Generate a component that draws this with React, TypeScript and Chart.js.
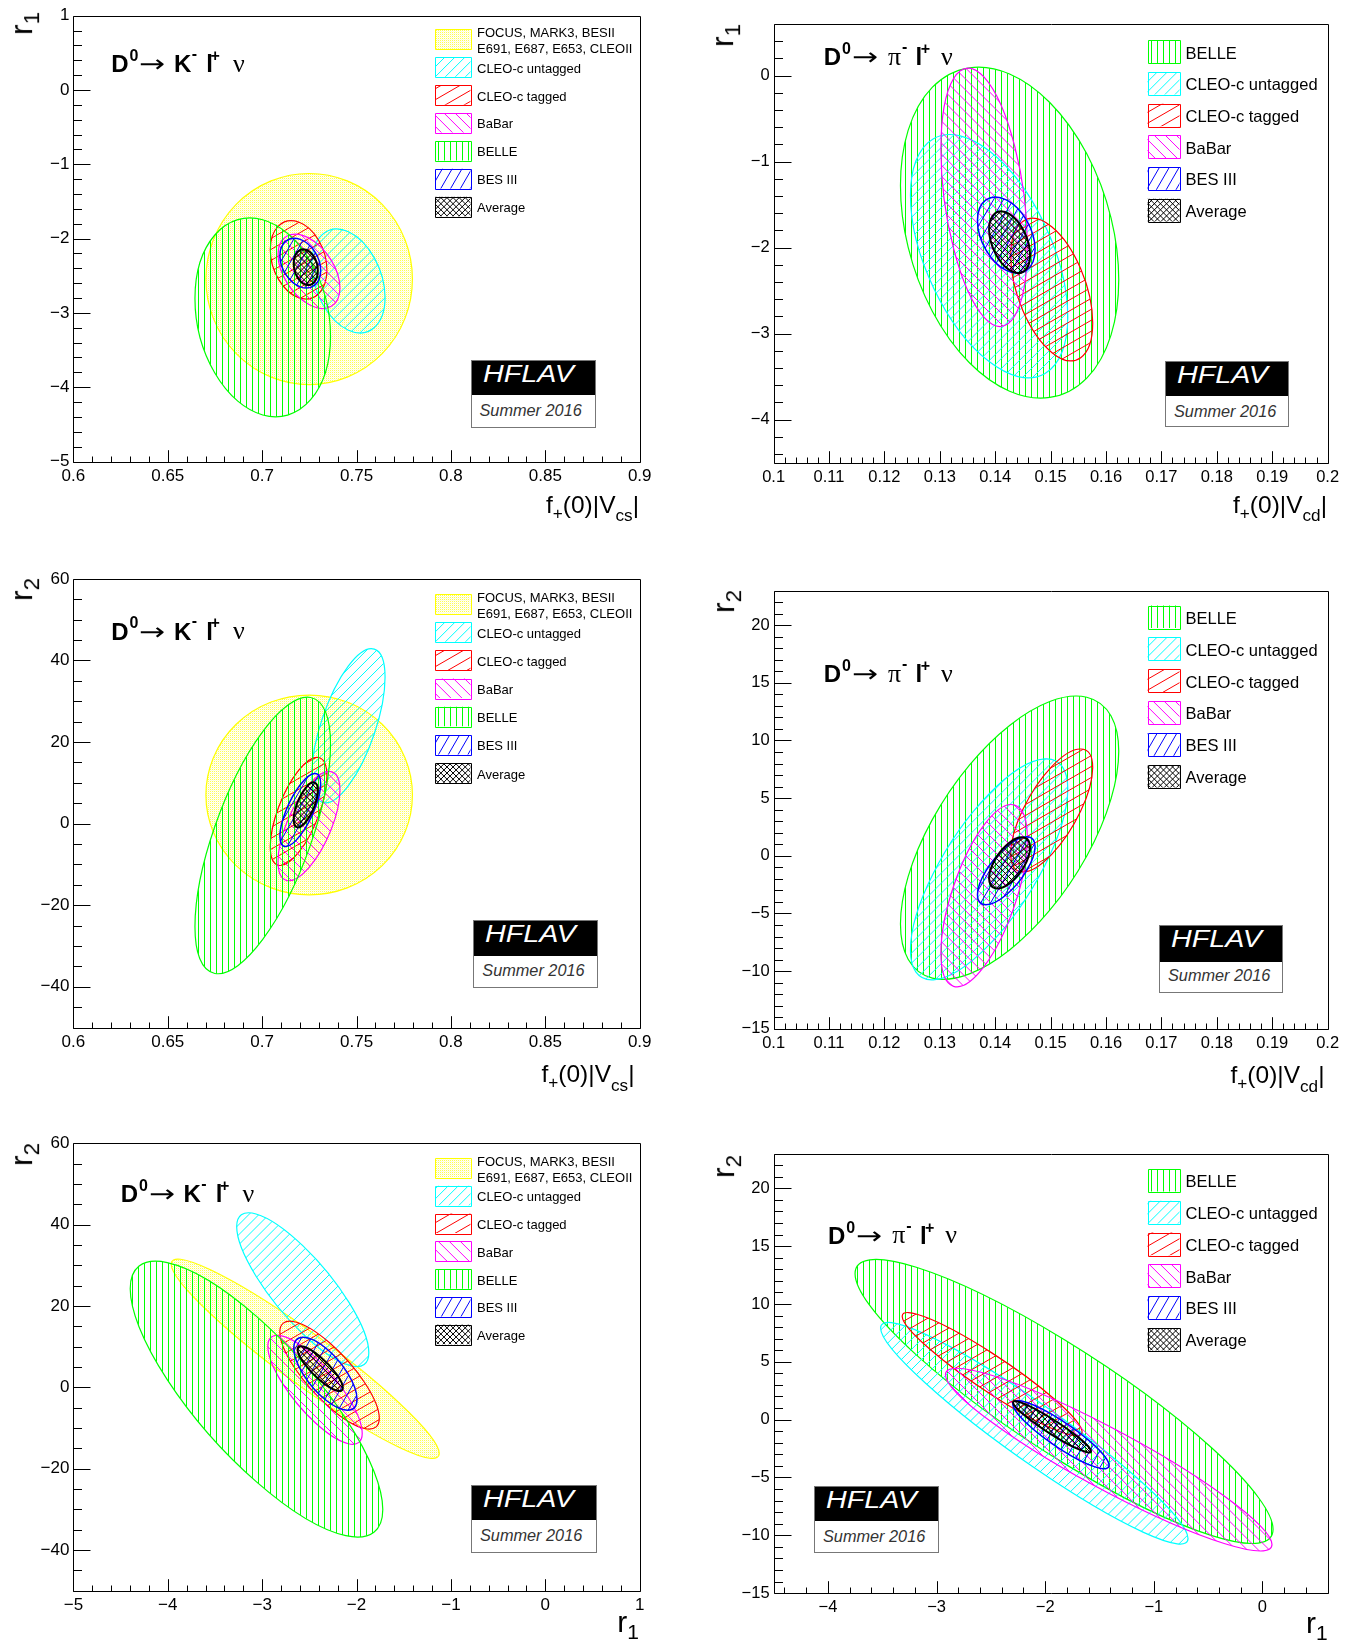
import React, { useEffect, useRef } from "react";
import { Chart, registerables } from "chart.js";

Chart.register(...registerables);

// ---------------- D0 -> K- l+ nu : 1-sigma contours ----------------
const K_EXPERIMENTS = ["FOCUS, MARK3, BESII, E691, E687, E653, CLEOII", "CLEO-c untagged", "CLEO-c tagged", "BaBar", "BELLE", "BES III", "Average"];
const K_LEGEND_LINES = [["FOCUS, MARK3, BESII", "E691, E687, E653, CLEOII"], ["CLEO-c untagged"], ["CLEO-c tagged"], ["BaBar"], ["BELLE"], ["BES III"], ["Average"]];
const K_F_CENTER = [0.7249, 0.7457, 0.7193, 0.7248, 0.7003, 0.7202, 0.7231];
const K_F_HALF = [0.0547, 0.0194, 0.0150, 0.0164, 0.0359, 0.0108, 0.0064];
const K_R1_CENTER = [-2.544, -2.57, -2.286, -2.44, -3.06, -2.33, -2.385];
const K_R1_HALF = [1.42, 0.70, 0.527, 0.50, 1.338, 0.335, 0.24];
const K_R2_CENTER = [7.03, 24.0, 3.0, -0.6, -2.9, 3.34, 4.6];
const K_R2_HALF = [24.5, 18.9, 13.25, 13.4, 33.9, 8.95, 5.52];
const K_RHO_F_R1 = [0.0, -0.32, -0.26, -0.45, -0.19, -0.3, -0.2];
const K_RHO_F_R2 = [0.0, 0.63, 0.65, 0.65, 0.66, 0.72, 0.65];
const K_RHO_R1_R2 = [-0.95, -0.82, -0.8, -0.8, -0.8, -0.7, -0.85];
const K_STYLE_KEYS = ["yellow", "cyan", "red", "magenta", "green", "blue", "black"];

// ---------------- D0 -> pi- l+ nu : 1-sigma contours ----------------
const PI_EXPERIMENTS = ["BELLE", "CLEO-c untagged", "CLEO-c tagged", "BaBar", "BES III", "Average"];
const PI_LEGEND_LINES = [["BELLE"], ["CLEO-c untagged"], ["CLEO-c tagged"], ["BaBar"], ["BES III"], ["Average"]];
const PI_F_CENTER = [0.1426, 0.1389, 0.1502, 0.1380, 0.1420, 0.1426];
const PI_F_HALF = [0.0197, 0.0142, 0.0074, 0.0078, 0.0052, 0.0037];
const PI_R1_CENTER = [-1.826, -2.10, -2.488, -1.415, -1.855, -1.937];
const PI_R1_HALF = [1.924, 1.415, 0.828, 1.503, 0.443, 0.359];
const PI_R2_CENTER = [1.57, -1.18, 3.93, -3.46, -1.30, -0.62];
const PI_R2_HALF = [12.28, 9.58, 5.33, 7.90, 2.95, 2.22];
const PI_RHO_F_R1 = [-0.285, -0.5, -0.47, -0.37, -0.38, -0.42];
const PI_RHO_F_R2 = [0.61, 0.73, 0.70, 0.63, 0.71, 0.60];
const PI_RHO_R1_R2 = [-0.9, -0.95, -0.94, -0.93, -0.9, -0.95];
const PI_STYLE_KEYS = ["green", "cyan", "red", "magenta", "blue", "black"];

// ---------------- tick labels ----------------
const X_TICKS_F_K = [0.6, 0.65, 0.7, 0.75, 0.8, 0.85, 0.9];
const X_TICKS_F_PI = [0.1, 0.11, 0.12, 0.13, 0.14, 0.15, 0.16, 0.17, 0.18, 0.19, 0.2];
const X_TICKS_R1_K = [-5, -4, -3, -2, -1, 0, 1];
const X_TICKS_R1_PI = [-4, -3, -2, -1, 0];
const Y_TICKS_R1_K = [1, 0, -1, -2, -3, -4, -5];
const Y_TICKS_R1_PI = [0, -1, -2, -3, -4];
const Y_TICKS_R2_K = [60, 40, 20, 0, -20, -40];
const Y_TICKS_R2_PI = [20, 15, 10, 5, 0, -5, -10, -15];

const FAMILIES: any = {
  K: {
    names: K_EXPERIMENTS,
    legend: K_LEGEND_LINES,
    styles: K_STYLE_KEYS,
    center: { f: K_F_CENTER, r1: K_R1_CENTER, r2: K_R2_CENTER },
    half: { f: K_F_HALF, r1: K_R1_HALF, r2: K_R2_HALF },
    rho: { "f-r1": K_RHO_F_R1, "f-r2": K_RHO_F_R2, "r1-r2": K_RHO_R1_R2 },
  },
  PI: {
    names: PI_EXPERIMENTS,
    legend: PI_LEGEND_LINES,
    styles: PI_STYLE_KEYS,
    center: { f: PI_F_CENTER, r1: PI_R1_CENTER, r2: PI_R2_CENTER },
    half: { f: PI_F_HALF, r1: PI_R1_HALF, r2: PI_R2_HALF },
    rho: { "f-r1": PI_RHO_F_R1, "f-r2": PI_RHO_F_R2, "r1-r2": PI_RHO_R1_R2 },
  },
};

// ---------------- styles ----------------
const SANS = "'Liberation Sans', Arial, Helvetica, sans-serif";
const SERIF = "'Liberation Serif', 'DejaVu Serif', 'Times New Roman', serif";
const ARROWFONT = "'DejaVu Sans', 'Liberation Sans', sans-serif";
const PAGE_W = 1354;
const PAGE_H = 1645;
const YW = 64;
const XH = 34;

const HATCH: any = {
  yellow: { color: "#ffff00", dots: true, outline: 1.2 },
  cyan: { color: "#00ffff", angles: [45], gap: 7.1, outline: 1.2 },
  red: { color: "#ff0000", angles: [30], gap: 9.5, outline: 1.2 },
  magenta: { color: "#ff00ff", angles: [-45], gap: 7.8, outline: 1.2 },
  green: { color: "#00ff00", angles: [90], gap: 6, outline: 1.2 },
  blue: { color: "#0000ff", angles: [60], gap: 8.5, outline: 1.5 },
  black: { color: "#000000", angles: [45, -45], gap: 4.3, outline: 2 },
};

const PANELS: any[] = [
  {
    id: "tl", family: "K", xKey: "f", yKey: "r1", xRange: [0.6, 0.9], yRange: [-5, 1],
    xTicks: X_TICKS_F_K, yTicks: Y_TICKS_R1_K, xMinor: 0.01, yMinor: 0.2,
    canvas: { x: 0, y: 0, w: 677, h: 545 }, plot: { l: 73.4, t: 15.7, r: 639.7, b: 461.5 },
    legend: { x: 435, y: 29.3, step: 27.9, w: 35.5, h: 19.6, textX: 477, font: 13 },
    title: { x: 111.3, baseline: 72.4 }, hflav: { x: 470.5, y: 359.5, w: 125, h: 68, split: 36 },
    xTitle: { right: 639, baseline: 513.5 }, yTitle: { base: 32.4, end: 12 }, tickFont: 17,
  },
  {
    id: "tr", family: "PI", xKey: "f", yKey: "r1", xRange: [0.1, 0.2], yRange: [-4.5, 0.6],
    xTicks: X_TICKS_F_PI, yTicks: Y_TICKS_R1_PI, xMinor: 0.002, yMinor: 0.2,
    canvas: { x: 677, y: 0, w: 677, h: 545 }, plot: { l: 773.6, t: 24, r: 1327.6, b: 462.6 },
    legend: { x: 1147.5, y: 40.3, step: 31.7, w: 32, h: 22.6, textX: 1185.5, font: 16.5 },
    title: { x: 823.7, baseline: 65.5 }, hflav: { x: 1165, y: 361, w: 124, h: 66, split: 35 },
    xTitle: { right: 1327, baseline: 513.5 }, yTitle: { base: 733, end: 24 }, tickFont: 16.5,
  },
  {
    id: "ml", family: "K", xKey: "f", yKey: "r2", xRange: [0.6, 0.9], yRange: [-50, 60],
    xTicks: X_TICKS_F_K, yTicks: Y_TICKS_R2_K, xMinor: 0.01, yMinor: 5,
    canvas: { x: 0, y: 545, w: 677, h: 567 }, plot: { l: 73.4, t: 578.9, r: 639.7, b: 1027.6 },
    legend: { x: 435, y: 593.9, step: 28.2, w: 35.5, h: 19.6, textX: 477, font: 13 },
    title: { x: 111.3, baseline: 639.9 }, hflav: { x: 473.3, y: 919.5, w: 124.5, h: 68.5, split: 37 },
    xTitle: { right: 634.5, baseline: 1082.7 }, yTitle: { base: 32, end: 577.6 }, tickFont: 17,
  },
  {
    id: "mr", family: "PI", xKey: "f", yKey: "r2", xRange: [0.1, 0.2], yRange: [-15, 23],
    xTicks: X_TICKS_F_PI, yTicks: Y_TICKS_R2_PI, xMinor: 0.002, yMinor: 1,
    canvas: { x: 677, y: 545, w: 677, h: 567 }, plot: { l: 773.6, t: 590.5, r: 1327.6, b: 1028.8 },
    legend: { x: 1147.5, y: 605.5, step: 31.9, w: 32, h: 22.6, textX: 1185.5, font: 16.5 },
    title: { x: 823.7, baseline: 682.6 }, hflav: { x: 1159, y: 925, w: 124, h: 68, split: 37 },
    xTitle: { right: 1324.5, baseline: 1084 }, yTitle: { base: 734, end: 590 }, tickFont: 16.5,
  },
  {
    id: "bl", family: "K", xKey: "r1", yKey: "r2", xRange: [-5, 1], yRange: [-50, 60],
    xTicks: X_TICKS_R1_K, yTicks: Y_TICKS_R2_K, xMinor: 0.2, yMinor: 5,
    canvas: { x: 0, y: 1112, w: 677, h: 533 }, plot: { l: 73.4, t: 1143.2, r: 639.7, b: 1590.8 },
    legend: { x: 435, y: 1157.9, step: 27.8, w: 35.5, h: 19.6, textX: 477, font: 13 },
    title: { x: 120.8, baseline: 1202.8 }, hflav: { x: 471, y: 1484.5, w: 125.5, h: 68, split: 36 },
    xTitle: { right: 639, baseline: 1632.8 }, yTitle: { base: 32, end: 1143 }, tickFont: 17,
  },
  {
    id: "br", family: "PI", xKey: "r1", yKey: "r2", xRange: [-4.5, 0.6], yRange: [-15, 23],
    xTicks: X_TICKS_R1_PI, yTicks: Y_TICKS_R2_PI, xMinor: 0.2, yMinor: 1,
    canvas: { x: 677, y: 1112, w: 677, h: 533 }, plot: { l: 773.6, t: 1153.6, r: 1327.6, b: 1593.1 },
    legend: { x: 1147.5, y: 1169, step: 31.8, w: 32, h: 22.6, textX: 1185.5, font: 16.5 },
    title: { x: 828, baseline: 1244.1 }, hflav: { x: 814, y: 1485.5, w: 124.5, h: 67.5, split: 35.5 },
    xTitle: { right: 1327.6, baseline: 1633.8 }, yTitle: { base: 734, end: 1155 }, tickFont: 16.5,
  },
];

// ---------------- drawing helpers ----------------
const patCache = new WeakMap<any, any>();
function dotPattern(ctx: CanvasRenderingContext2D) {
  let p = patCache.get(ctx);
  if (!p) {
    const c = document.createElement("canvas");
    c.width = 2;
    c.height = 2;
    const g = c.getContext("2d")!;
    g.fillStyle = "#fffff6";
    g.fillRect(0, 0, 2, 2);
    g.fillStyle = "#ffff50";
    g.fillRect(0, 0, 1, 1);
    g.fillStyle = "#ffffd8";
    g.fillRect(1, 1, 1, 1);
    p = ctx.createPattern(c, "repeat");
    patCache.set(ctx, p);
  }
  return p;
}

function fillHatch(ctx: CanvasRenderingContext2D, st: any, box: any) {
  ctx.save();
  ctx.clip();
  if (st.dots) {
    ctx.fillStyle = dotPattern(ctx);
    ctx.fillRect(box.x, box.y, box.w, box.h);
  } else {
    ctx.strokeStyle = st.color;
    ctx.lineWidth = 1;
    ctx.beginPath();
    for (const ang of st.angles) {
      const t = (ang * Math.PI) / 180;
      const dx = Math.cos(t), dy = -Math.sin(t);
      const nx = Math.sin(t), ny = Math.cos(t);
      const cs = [[box.x, box.y], [box.x + box.w, box.y], [box.x, box.y + box.h], [box.x + box.w, box.y + box.h]];
      const pr = cs.map(([x, y]) => x * nx + y * ny);
      const k0 = Math.floor(Math.min(...pr) / st.gap) - 1;
      const k1 = Math.ceil(Math.max(...pr) / st.gap) + 1;
      const L = box.w + box.h + 50;
      const along = (box.x + box.w / 2) * dx + (box.y + box.h / 2) * dy;
      for (let k = k0; k <= k1; k++) {
        const off = k * st.gap + (ang === 90 ? 0.5 : 0);
        const px = nx * off + dx * along, py = ny * off + dy * along;
        ctx.moveTo(px - dx * L, py - dy * L);
        ctx.lineTo(px + dx * L, py + dy * L);
      }
    }
    ctx.stroke();
  }
  ctx.restore();
}

function traceEllipse(ctx: CanvasRenderingContext2D, xs: any, ys: any, cx: number, cy: number, hx: number, hy: number, rho: number) {
  const X0 = xs.getPixelForValue(cx);
  const Y0 = ys.getPixelForValue(cy);
  const kx = xs.getPixelForValue(cx + hx) - X0;
  const ky = ys.getPixelForValue(cy + hy) - Y0;
  const s = Math.sqrt(1 - rho * rho);
  ctx.save();
  ctx.beginPath();
  ctx.transform(kx, ky * rho, 0, ky * s, X0, Y0);
  ctx.arc(0, 0, 1, 0, Math.PI * 2);
  ctx.closePath();
  ctx.restore();
}

function stepsIn(min: number, max: number, step: number) {
  const out: number[] = [];
  const k0 = Math.ceil(min / step - 1e-6);
  const k1 = Math.floor(max / step + 1e-6);
  for (let k = k0; k <= k1; k++) out.push(k * step);
  return out;
}

function fmt(v: number) {
  const r = Math.round(v * 1e6) / 1e6;
  const s = String(Math.abs(r));
  return r < 0 ? "\u2212" + s : s;
}

function makePlugin(p: any) {
  const fam = FAMILIES[p.family];
  return {
    id: "contours_" + p.id,
    beforeDatasetsDraw(chart: any) {
      const { ctx, chartArea: a } = chart;
      const xs = chart.scales.x, ys = chart.scales.y;
      const box = { x: a.left, y: a.top, w: a.right - a.left, h: a.bottom - a.top };
      ctx.save();
      ctx.beginPath();
      ctx.rect(box.x, box.y, box.w, box.h);
      ctx.clip();
      const rho = fam.rho[p.xKey + "-" + p.yKey];
      fam.names.forEach((_n: string, i: number) => {
        const st = HATCH[fam.styles[i]];
        const trace = () =>
          traceEllipse(ctx, xs, ys, fam.center[p.xKey][i], fam.center[p.yKey][i], fam.half[p.xKey][i], fam.half[p.yKey][i], rho[i]);
        trace();
        fillHatch(ctx, st, box);
        trace();
        ctx.strokeStyle = st.color;
        ctx.lineWidth = st.outline;
        ctx.stroke();
      });
      ctx.restore();
    },
    afterDraw(chart: any) {
      const { ctx, chartArea: a } = chart;
      const xs = chart.scales.x, ys = chart.scales.y;
      ctx.save();
      ctx.strokeStyle = "#000";
      ctx.lineWidth = 1;
      const L = Math.round(a.left) + 0.5, T = Math.round(a.top) + 0.5;
      const R = Math.round(a.right) + 0.5, B = Math.round(a.bottom) + 0.5;
      ctx.beginPath();
      ctx.rect(L, T, R - L, B - T);
      for (const v of stepsIn(p.yRange[0], p.yRange[1], p.yMinor)) {
        const major = p.yTicks.some((m: number) => Math.abs(m - v) < p.yMinor * 0.01);
        const py = Math.round(ys.getPixelForValue(v)) + 0.5;
        ctx.moveTo(L, py);
        ctx.lineTo(L + (major ? 17 : 8.5), py);
      }
      for (const v of stepsIn(p.xRange[0], p.xRange[1], p.xMinor)) {
        const major = p.xTicks.some((m: number) => Math.abs(m - v) < p.xMinor * 0.01);
        const px = Math.round(xs.getPixelForValue(v)) + 0.5;
        ctx.moveTo(px, B);
        ctx.lineTo(px, B - (major ? 12.3 : 6));
      }
      ctx.stroke();
      const lg = p.legend;
      fam.names.forEach((_n: string, i: number) => {
        const st = HATCH[fam.styles[i]];
        const bx = { x: lg.x - p.canvas.x, y: lg.y + i * lg.step - p.canvas.y, w: lg.w, h: lg.h };
        ctx.beginPath();
        ctx.rect(bx.x, bx.y, bx.w, bx.h);
        fillHatch(ctx, st, bx);
        ctx.beginPath();
        ctx.rect(Math.round(bx.x) + 0.5, Math.round(bx.y) + 0.5, Math.round(bx.w), Math.round(bx.h));
        ctx.strokeStyle = st.color;
        ctx.lineWidth = 1;
        ctx.stroke();
      });
      ctx.restore();
    },
  };
}

// ---------------- components ----------------
function PanelChart({ p }: { p: any }) {
  const ref = useRef<HTMLCanvasElement>(null);
  useEffect(() => {
    const canvas = ref.current!;
    const fam = FAMILIES[p.family];
    const c = p.canvas, pl = p.plot;
    const tickFont = { family: SANS, size: p.tickFont };
    const chart = new Chart(canvas, {
      type: "scatter",
      data: {
        datasets: fam.names.map((n: string, i: number) => ({
          label: n,
          data: [{ x: fam.center[p.xKey][i], y: fam.center[p.yKey][i] }],
          pointRadius: 0,
          pointHoverRadius: 0,
          showLine: false,
        })),
      },
      options: {
        responsive: false,
        animation: false,
        devicePixelRatio: 1,
        events: [],
        layout: {
          padding: {
            left: pl.l - c.x - YW,
            right: c.x + c.w - pl.r,
            top: pl.t - c.y,
            bottom: c.y + c.h - pl.b - XH,
          },
        },
        plugins: { legend: { display: false }, tooltip: { enabled: false }, title: { display: false } },
        scales: {
          x: {
            type: "linear",
            position: "bottom",
            min: p.xRange[0],
            max: p.xRange[1],
            grid: { display: false, drawTicks: false },
            border: { display: false },
            ticks: { autoSkip: false, maxRotation: 0, minRotation: 0, padding: 4.5, color: "#000", font: tickFont, callback: (v: any) => fmt(Number(v)) },
            afterBuildTicks: (s: any) => {
              s.ticks = p.xTicks.map((v: number) => ({ value: v }));
            },
            afterFit: (s: any) => {
              s.height = XH;
            },
          },
          y: {
            type: "linear",
            position: "left",
            min: p.yRange[0],
            max: p.yRange[1],
            grid: { display: false, drawTicks: false },
            border: { display: false },
            ticks: { autoSkip: false, padding: 4, color: "#000", font: tickFont, callback: (v: any) => fmt(Number(v)) },
            afterBuildTicks: (s: any) => {
              s.ticks = p.yTicks.map((v: number) => ({ value: v }));
            },
            afterFit: (s: any) => {
              s.width = YW;
            },
          },
        },
      } as any,
      plugins: [makePlugin(p)],
    });
    return () => chart.destroy();
  }, [p]);
  return (
    <canvas
      ref={ref}
      width={p.canvas.w}
      height={p.canvas.h}
      style={{ position: "absolute", left: p.canvas.x, top: p.canvas.y, width: p.canvas.w, height: p.canvas.h }}
    />
  );
}

const ASC_SANS = 0.8465;
const ASC_SERIF = 0.8375;

function Sub({ children, shift = 0.45 }: any) {
  return <span style={{ fontSize: "0.7em", position: "relative", top: shift + "em" }}>{children}</span>;
}

function Reaction({ p }: { p: any }) {
  const isK = p.family === "K";
  const pieces = isK
    ? [
        { dx: 0, dy: 0, t: "D", s: 24, w: 700, f: "sans" },
        { dx: 18.1, dy: -11, t: "0", s: 16, w: 700, f: "sans" },
        { dx: 27.7, dy: 0, t: "\u2192", s: 24, w: 400, f: "arrow" },
        { dx: 62.7, dy: 0, t: "K", s: 24, w: 700, f: "sans" },
        { dx: 80.5, dy: -13, t: "-", s: 16, w: 700, f: "sans" },
        { dx: 94.9, dy: 0, t: "l", s: 24, w: 700, f: "sans" },
        { dx: 99.2, dy: -11, t: "+", s: 16, w: 700, f: "sans" },
        { dx: 121.7, dy: 0, t: "\u03bd", s: 26, w: 400, f: "serif" },
      ]
    : [
        { dx: 0, dy: 0, t: "D", s: 24, w: 700, f: "sans" },
        { dx: 18.3, dy: -11, t: "0", s: 16, w: 700, f: "sans" },
        { dx: 28, dy: 0, t: "\u2192", s: 24, w: 400, f: "arrow" },
        { dx: 64.3, dy: 0, t: "\u03c0", s: 26, w: 400, f: "serif" },
        { dx: 78.3, dy: -13, t: "-", s: 16, w: 700, f: "sans" },
        { dx: 91.9, dy: 0, t: "l", s: 24, w: 700, f: "sans" },
        { dx: 97, dy: -11, t: "+", s: 16, w: 700, f: "sans" },
        { dx: 117.3, dy: 0, t: "\u03bd", s: 26, w: 400, f: "serif" },
      ];
  return (
    <>
      {pieces.map((pc, i) => {
        const fam = pc.f === "sans" ? SANS : pc.f === "serif" ? SERIF : ARROWFONT;
        const asc = pc.f === "serif" ? ASC_SERIF : 0.85;
        return (
          <span
            key={i}
            style={{
              position: "absolute",
              left: p.title.x + pc.dx,
              top: p.title.baseline + pc.dy - asc * pc.s,
              fontSize: pc.s,
              fontWeight: pc.w,
              fontFamily: fam,
              lineHeight: 1,
              whiteSpace: "nowrap",
              color: "#000",
              transform: pc.f === "arrow" ? "scaleX(1.3)" : undefined,
              transformOrigin: "left center",
            }}
          >
            {pc.t}
          </span>
        );
      })}
    </>
  );
}

function LegendTexts({ p }: { p: any }) {
  const fam = FAMILIES[p.family];
  const lg = p.legend;
  const F = lg.font;
  const out: any[] = [];
  fam.legend.forEach((lines: string[], i: number) => {
    const c = lg.y + i * lg.step + lg.h / 2 + 1;
    const centers = lines.length === 2 ? [c - 7.4, c + 8.6] : [c];
    lines.forEach((txt, j) => {
      out.push(
        <div
          key={i + "_" + j}
          style={{ position: "absolute", left: lg.textX, top: centers[j] - 0.489 * F, fontSize: F, lineHeight: 1, fontFamily: SANS, whiteSpace: "nowrap", color: "#000" }}
        >
          {txt}
        </div>
      );
    });
  });
  return <>{out}</>;
}

function Hflav({ b }: { b: any }) {
  return (
    <div style={{ position: "absolute", left: b.x, top: b.y, width: b.w, height: b.h, boxSizing: "border-box", border: "1.5px solid #777", background: "#fff" }}>
      <div style={{ position: "absolute", left: 0, top: 0, right: 0, height: b.split - 1.5, background: "#000" }} />
      <div
        style={{
          position: "absolute",
          left: 11,
          top: 22 - ASC_SANS * 23.5,
          fontSize: 23.5,
          fontStyle: "italic",
          color: "#fff",
          fontFamily: SANS,
          lineHeight: 1,
          whiteSpace: "nowrap",
          transform: "scaleX(1.22)",
          transformOrigin: "left center",
        }}
      >
        HFLAV
      </div>
      <div
        style={{
          position: "absolute",
          left: 8,
          top: 55.2 - ASC_SANS * 16.3,
          fontSize: 16.3,
          fontStyle: "italic",
          color: "#333",
          fontFamily: SANS,
          lineHeight: 1,
          whiteSpace: "nowrap",
        }}
      >
        Summer 2016
      </div>
    </div>
  );
}

function AxisTitles({ p }: { p: any }) {
  const isF = p.xKey === "f";
  const FX = isF ? 24.5 : 30;
  const FY = 32;
  const xStyle: any = {
    position: "absolute",
    right: PAGE_W - p.xTitle.right,
    top: p.xTitle.baseline - ASC_SANS * FX,
    fontSize: FX,
    lineHeight: 1,
    whiteSpace: "nowrap",
    fontFamily: SANS,
    color: "#000",
  };
  const yStyle: any = {
    position: "absolute",
    right: PAGE_W - (p.yTitle.base - ASC_SANS * FY),
    top: p.yTitle.end,
    fontSize: FY,
    lineHeight: 1,
    whiteSpace: "nowrap",
    fontFamily: SANS,
    color: "#000",
    transform: "rotate(-90deg)",
    transformOrigin: "right top",
  };
  const yIdx = p.yKey === "r1" ? "1" : "2";
  return (
    <>
      <div style={xStyle}>
        {isF ? (
          <>
            f<Sub shift={0.35}>+</Sub>(0)|V<Sub shift={0.5}>{p.family === "K" ? "cs" : "cd"}</Sub>|
          </>
        ) : (
          <>
            r<Sub shift={0.3}>1</Sub>
          </>
        )}
      </div>
      <div style={yStyle}>
        r<Sub shift={0.3}>{yIdx}</Sub>
      </div>
    </>
  );
}

export default function App() {
  return (
    <div style={{ position: "absolute", left: 0, top: 0, width: PAGE_W, height: PAGE_H, background: "#fff", overflow: "hidden", fontFamily: SANS }}>
      {PANELS.map((p) => (
        <PanelChart key={p.id} p={p} />
      ))}
      {PANELS.map((p) => (
        <React.Fragment key={"o_" + p.id}>
          <Reaction p={p} />
          <LegendTexts p={p} />
          <Hflav b={p.hflav} />
          <AxisTitles p={p} />
        </React.Fragment>
      ))}
    </div>
  );
}
